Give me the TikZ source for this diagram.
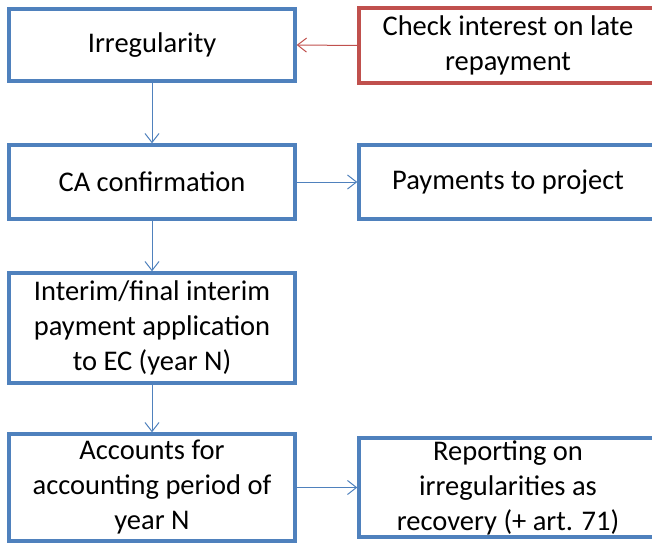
\documentclass[tikz,border=0pt]{standalone}
\usepackage{fontspec}
\setmainfont{Carlito}
\usetikzlibrary{arrows.meta}
\definecolor{boxblue}{HTML}{4F81BD}
\definecolor{boxred}{HTML}{C0504D}
\tikzset{
  box/.style={draw=boxblue, line width=3.4pt, fill=white, rectangle, inner sep=0pt, align=center,
    font=\fontsize{28.5pt}{35pt}\selectfont, text=black},
  redbox/.style={box, draw=boxred},
  conn/.style={draw=boxblue, line width=1pt, -{Straight Barb[length=9pt,width=14pt,line width=1pt]}},
  redconn/.style={conn, draw=boxred}
}
\begin{document}
\begin{tikzpicture}[x=1pt,y=-1pt]
\useasboundingbox (0,0) rectangle (652,543);
\clip (0,0) rectangle (652,543);
\node[box, minimum width=286pt, minimum height=72pt] (irr) at (152,45) {Irregularity};
\node[redbox, minimum width=298pt, minimum height=75pt] (chk) at (508,45.5) {Check interest on late\\repayment};
\node[box, minimum width=286pt, minimum height=74pt] (ca) at (152,182) {CA confirmation};
\node[box, minimum width=298pt, minimum height=74pt] (pay) at (508,182) {Payments to project};
\node[box, minimum width=286pt, minimum height=110pt] (int) at (152,328) {Interim/final interim\\payment application\\to EC (year N)};
\node[box, minimum width=286pt, minimum height=107pt] (acc) at (152,487.5) {Accounts for\\accounting period of\\year N};
\node[box, minimum width=298pt, minimum height=99pt] (rep) at (508,487.5) {Reporting on\\irregularities as\\recovery (+ art. 71)};
\draw[redconn] (chk.west) -- (irr.east);
\draw[conn] (irr) -- (ca);
\draw[conn] (ca) -- (pay);
\draw[conn] (ca) -- (int);
\draw[conn] (int) -- (acc);
\draw[conn] (acc) -- (rep);
\end{tikzpicture}
\end{document}
